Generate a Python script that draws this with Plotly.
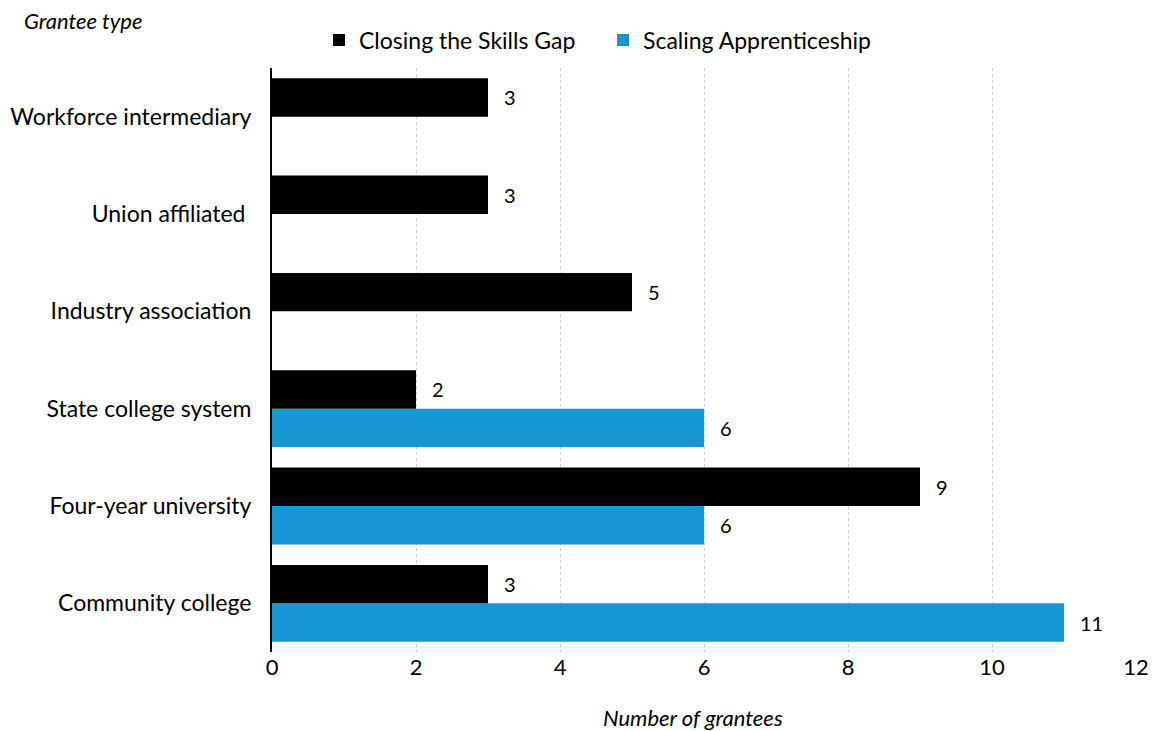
import plotly.graph_objects as go

categories = [
    "Community college",
    "Four-year university",
    "State college system",
    "Industry association",
    "Union affiliated ",
    "Workforce intermediary",
]
closing_skills_gap = [3, 9, 2, 5, 3, 3]
scaling_apprenticeship = [11, 6, 6, None, None, None]
x_ticks = [0, 2, 4, 6, 8, 10, 12]

BLACK = "#000000"
BLUE = "#1696d2"
FONT = "Lato, 'Noto Sans', sans-serif"

L, R, T, B = 272, 20, 68, 79
W, H = 1156, 731
PW, PH = W - L - R, H - T - B

fig = go.Figure()
fig.add_trace(go.Bar(
    y=categories, x=scaling_apprenticeship, orientation="h",
    name="Scaling Apprenticeship", marker=dict(color=BLUE, line=dict(width=0)),
    legendrank=2,
))
fig.add_trace(go.Bar(
    y=categories, x=closing_skills_gap, orientation="h",
    name="Closing the Skills Gap", marker=dict(color=BLACK, line=dict(width=0)),
    legendrank=1,
))

# value labels just beyond each bar end
for vals, offset in ((closing_skills_gap, 0.2), (scaling_apprenticeship, -0.2)):
    for cat_idx, v in enumerate(vals):
        if v is None:
            continue
        fig.add_annotation(
            x=v, y=cat_idx + offset, xref="x", yref="y",
            text=str(v), showarrow=False, xanchor="left", xshift=14,
            font=dict(family=FONT, size=20, color=BLACK),
        )

# y-axis heading in the top-left corner
fig.add_annotation(
    x=(22 - L) / PW, y=1 + (T - 20) / PH, xref="paper", yref="paper",
    text="<i>Grantee type</i>", showarrow=False,
    xanchor="left", yanchor="middle",
    font=dict(family=FONT, size=22, color=BLACK),
)
# x-axis title
fig.add_annotation(
    x=(693 - L) / PW, y=-(718 - (H - B)) / PH, xref="paper", yref="paper",
    text="<i>Number of grantees</i>", showarrow=False,
    xanchor="center", yanchor="middle",
    font=dict(family=FONT, size=22, color=BLACK),
)
fig.update_layout(
    width=W, height=H,
    margin=dict(l=L, r=R, t=T, b=B, autoexpand=False),
    barmode="group", bargap=0.21, bargroupgap=0,
    plot_bgcolor="white", paper_bgcolor="white",
    font=dict(family=FONT, size=22, color=BLACK),
    showlegend=True,
    legend=dict(
        orientation="h", x=(319 - L) / PW, y=1 + (T - 40) / PH,
        xanchor="left", yanchor="middle",
        font=dict(family=FONT, size=23, color=BLACK),
        itemwidth=30, traceorder="normal", entrywidth=239,
    ),
    xaxis=dict(
        range=[0, 12], tickvals=x_ticks, showgrid=True,
        gridcolor="#cfcfcf", griddash="dot", gridwidth=1,
        zeroline=False, showline=False, ticks="", automargin=False,
        tickfont=dict(family=FONT, size=22, color=BLACK),
    ),
    yaxis=dict(
        type="category", categoryorder="array", categoryarray=categories,
        showline=True, linecolor=BLACK, linewidth=2, ticks="",
        showgrid=False, ticklabelstandoff=14, automargin=False,
        tickfont=dict(family=FONT, size=23, color=BLACK),
    ),
)
fig.write_html("out.html")
